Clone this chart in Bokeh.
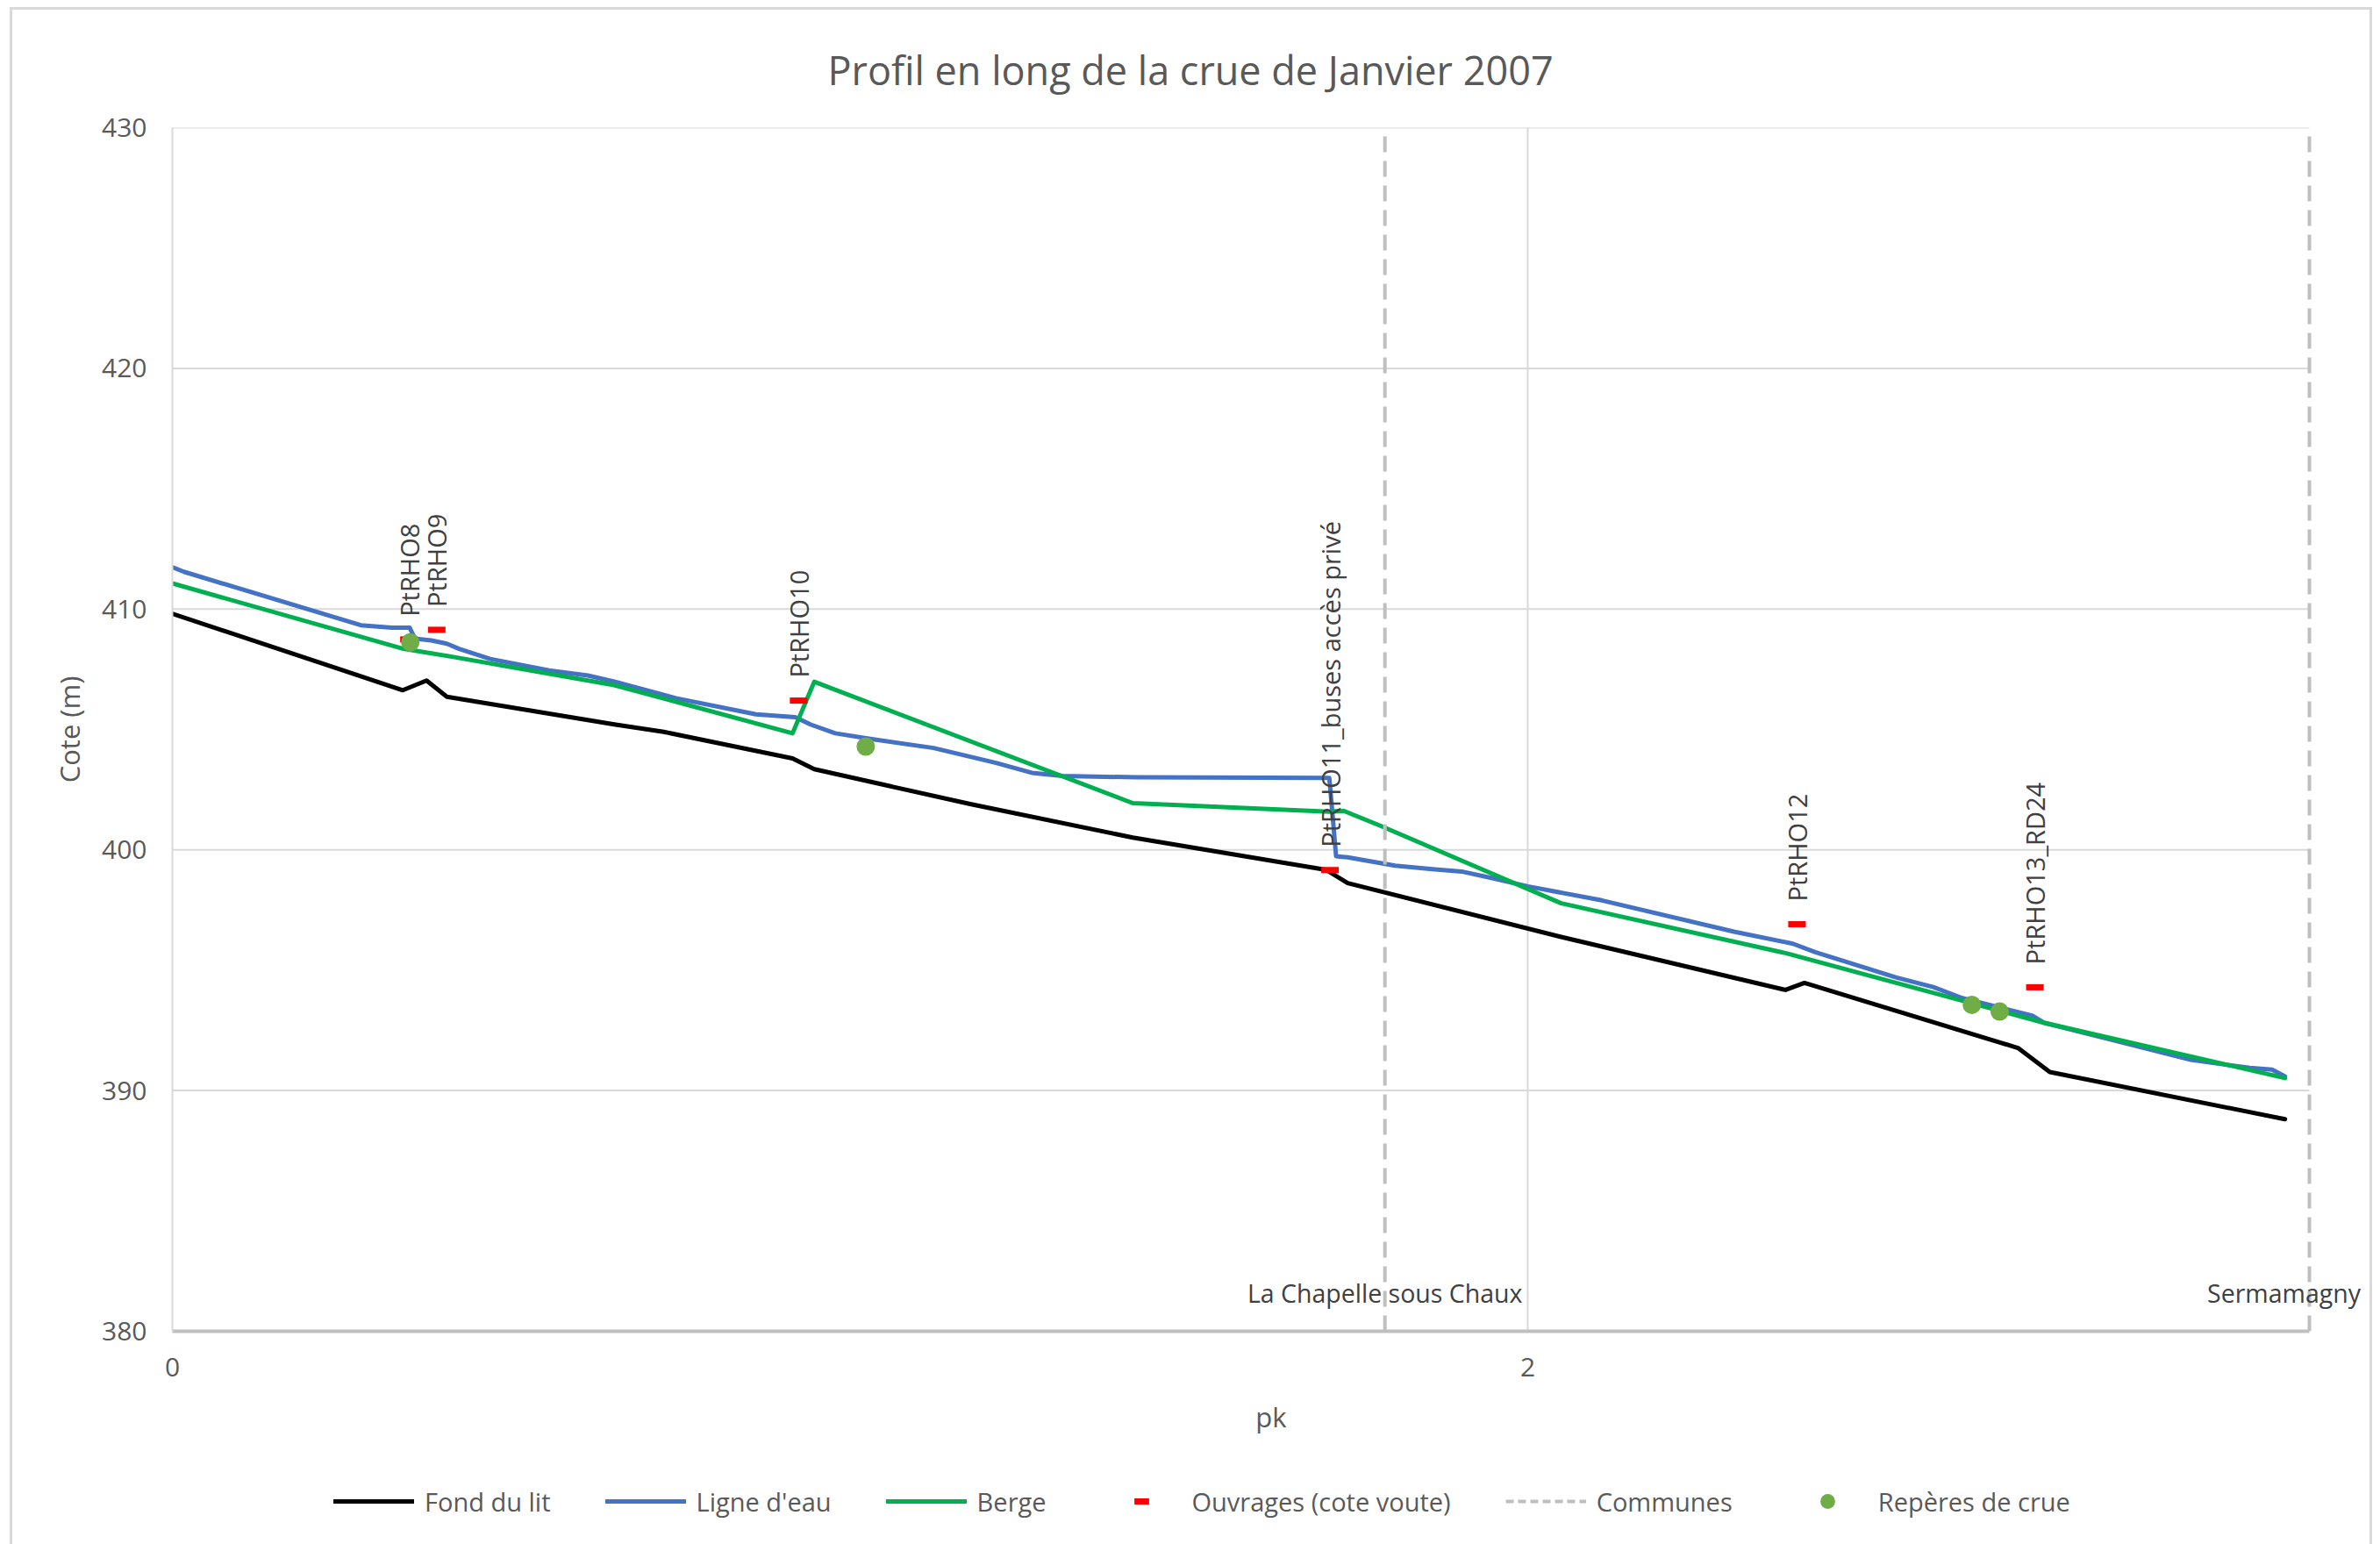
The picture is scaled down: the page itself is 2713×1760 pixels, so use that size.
import math
from bokeh.plotting import figure
from bokeh.layouts import column
from bokeh.models import Legend, LegendItem, FixedTicker, Range1d
from bokeh.core.properties import value
from bokeh.embed import file_html
from bokeh.resources import INLINE

# --- Profil en long : données (pk en km, cotes en m NGF) ---
pk_fond = [0.0, 0.340, 0.375, 0.405, 0.652, 0.725, 0.915, 0.947, 1.177, 1.417,
           1.702, 1.734, 2.049, 2.380, 2.408, 2.723, 2.770, 3.117]
cote_fond = [409.81, 406.63, 407.03, 406.36, 405.21, 404.90, 403.80, 403.35, 401.90, 400.51,
             399.17, 398.62, 396.38, 394.18, 394.47, 391.77, 390.77, 388.81]

pk_eau = [0.0, 0.017, 0.278, 0.324, 0.350, 0.358, 0.382, 0.405, 0.423, 0.469,
          0.556, 0.613, 0.652, 0.743, 0.861, 0.919, 0.942, 0.978, 1.032, 1.123,
          1.214, 1.268, 1.313, 1.422, 1.707, 1.717, 1.734, 1.804, 1.859, 1.902,
          1.946, 2.000, 2.109, 2.304, 2.391, 2.424, 2.543, 2.598, 2.641, 2.745,
          2.761, 2.859, 2.978, 3.065, 3.098, 3.117]
cote_eau = [411.74, 411.55, 409.33, 409.23, 409.23, 408.77, 408.70, 408.56, 408.35, 407.93,
            407.45, 407.24, 406.99, 406.30, 405.63, 405.51, 405.20, 404.84, 404.60, 404.23,
            403.62, 403.20, 403.07, 403.01, 402.99, 399.73, 399.69, 399.34, 399.20, 399.10,
            398.83, 398.48, 397.90, 396.60, 396.10, 395.75, 394.70, 394.30, 393.84, 393.10,
            392.82, 392.12, 391.28, 390.94, 390.87, 390.59]

pk_berge = [0.0, 0.341, 0.411, 0.652, 0.915, 0.947, 1.417, 1.707, 1.728, 1.783,
            2.049, 2.380, 2.761, 3.117]
cote_berge = [411.07, 408.35, 408.03, 406.84, 404.84, 406.98, 401.94, 401.58, 401.62, 400.99,
              397.78, 395.71, 392.82, 390.52]

ouvrages_noms = ["PtRHO8", "PtRHO9", "PtRHO10", "PtRHO11_buses accès privé",
                 "PtRHO12", "PtRHO13_RD24"]
ouvrages_pk = [0.349, 0.390, 0.924, 1.708, 2.397, 2.748]
ouvrages_cote = [408.74, 409.14, 406.20, 399.16, 396.91, 394.29]

reperes_pk = [0.351, 1.023, 2.655, 2.696]
reperes_cote = [408.62, 404.29, 393.56, 393.28]

communes_noms = ["La Chapelle sous Chaux", "Sermamagny"]
communes_pk = [1.789, 3.153]

y_ticks = [380, 390, 400, 410, 420, 430]
x_ticks = [0, 2]

FONT = "Open Sans"
GREY_TXT = "#595959"
DARK_TXT = "#404040"
GRID = "#d9d9d9"
C_FOND, C_EAU, C_BERGE = "black", "#4472c4", "#00b050"
C_OUV, C_COM, C_REP = "#ff0000", "#bfbfbf", "#70ad47"

y_min, y_max = y_ticks[0], y_ticks[-1]
x_max = communes_pk[-1]
# room right of the last commune limit so that its name is not cut
x_end = x_max + 0.0893

W = 2687
H_MAIN, H_LEG = 1660, 89

p = figure(
    width=W, height=H_MAIN,
    x_range=Range1d(0, x_end), y_range=Range1d(y_min, y_max),
    output_backend="svg", toolbar_location=None,
    title="Profil en long de la crue de Janvier 2007",
    min_border_left=182, min_border_right=0, min_border_top=134, min_border_bottom=154,
    background_fill_color="white", border_fill_color="white",
    outline_line_color=None,
)

p.title.align = "left"
p.title.offset = 747
p.title.standoff = 71
p.title.text_font = FONT
p.title.text_font_size = "45px"
p.title.text_font_style = "normal"
p.title.text_color = GREY_TXT

# axes
p.xaxis.ticker = FixedTicker(ticks=x_ticks)
p.yaxis.ticker = FixedTicker(ticks=y_ticks)
p.xaxis.bounds = (0, x_max)
p.xaxis.axis_label = "pk"
p.yaxis.axis_label = "Cote (m)"
for ax in (p.xaxis, p.yaxis):
    ax.major_tick_line_color = None
    ax.minor_tick_line_color = None
    ax.major_label_text_font = FONT
    ax.major_label_text_font_size = "30px"
    ax.major_label_text_color = GREY_TXT
    ax.axis_label_text_font = FONT
    ax.axis_label_text_font_size = "31px"
    ax.axis_label_text_font_style = "normal"
    ax.axis_label_text_color = GREY_TXT
p.xaxis.axis_label_text_align = "right"
p.yaxis.axis_line_color = GRID
p.yaxis.axis_line_width = 2
p.yaxis.major_label_standoff = 23
p.yaxis.axis_label_standoff = 13
p.xaxis.axis_line_color = "#bfbfbf"
p.xaxis.axis_line_width = 4
p.xaxis.major_label_standoff = 24
p.xaxis.axis_label_standoff = 22

# horizontal grid, stopping at the last commune limit
p.ygrid.visible = False
p.segment(x0=[0] * len(y_ticks), y0=y_ticks, x1=[x_max] * len(y_ticks), y1=y_ticks,
          line_color=GRID, line_width=2)
p.xgrid.ticker = FixedTicker(ticks=x_ticks)
p.xgrid.grid_line_color = GRID
p.xgrid.grid_line_width = 2

# séries
p.line(pk_fond, cote_fond, line_color=C_FOND, line_width=5, line_join="round", line_cap="round")
p.line(pk_eau, cote_eau, line_color=C_EAU, line_width=5, line_join="round", line_cap="round")
p.line(pk_berge, cote_berge, line_color=C_BERGE, line_width=5, line_join="round", line_cap="round")
p.scatter(ouvrages_pk, ouvrages_cote, marker="dash", size=20, line_color=C_OUV, line_width=7)
p.segment(x0=communes_pk, y0=[y_min] * len(communes_pk),
          x1=communes_pk, y1=[y_max] * len(communes_pk),
          line_color=C_COM, line_width=4, line_dash="18 10")
p.scatter(reperes_pk, reperes_cote, marker="circle", size=21, fill_color=C_REP, line_color=None)

# étiquettes des ouvrages (verticales, au-dessus du repère)
p.text(ouvrages_pk, ouvrages_cote, text=ouvrages_noms, angle=math.pi / 2,
       text_align="left", text_baseline="middle", y_offset=-26,
       text_font=value(FONT), text_font_size="29px", text_color=DARK_TXT)

# noms des communes au pied des limites
p.text(communes_pk[:1], [381.6], text=communes_noms[:1],
       text_align="center", text_baseline="middle",
       text_font=value(FONT), text_font_size="28.5px", text_color=DARK_TXT)
p.text(communes_pk[1:], [381.6], text=communes_noms[1:], x_offset=-29,
       text_align="center", text_baseline="middle",
       text_font=value(FONT), text_font_size="28.5px", text_color=DARK_TXT)

# bandeau de légende sous le graphique
leg = figure(width=W, height=H_LEG, x_range=Range1d(0, 1), y_range=Range1d(0, 1),
             output_backend="svg", toolbar_location=None, min_border=0,
             outline_line_color=None, background_fill_color="white",
             border_fill_color="white")
leg.axis.visible = False
leg.grid.visible = False
nan = [float("nan")]
g_fond = leg.line(nan, nan, line_color=C_FOND, line_width=5, line_cap="round")
g_eau = leg.line(nan, nan, line_color=C_EAU, line_width=5, line_cap="round")
g_berge = leg.line(nan, nan, line_color=C_BERGE, line_width=5, line_cap="round")
g_ouv = leg.scatter(nan, nan, marker="dash", line_color=C_OUV, line_width=7)
g_com = leg.line(nan, nan, line_color=C_COM, line_width=4, line_dash="9 5")
g_rep = leg.scatter(nan, nan, marker="circle", fill_color=C_REP, line_color=None)

legend = Legend(
    items=[
        LegendItem(label="Fond du lit", renderers=[g_fond]),
        LegendItem(label="Ligne d'eau", renderers=[g_eau]),
        LegendItem(label="Berge", renderers=[g_berge]),
        LegendItem(label="Ouvrages (cote voute)", renderers=[g_ouv]),
        LegendItem(label="Communes", renderers=[g_com]),
        LegendItem(label="Repères de crue", renderers=[g_rep]),
    ],
    orientation="horizontal", location=(184, 28),
    glyph_width=92, glyph_height=42, spacing=62, label_standoff=12,
    padding=0, margin=0, border_line_color=None, background_fill_alpha=0,
    label_text_font=FONT, label_text_font_size="29px", label_text_color=GREY_TXT,
)
leg.add_layout(legend)

page = column(p, leg, spacing=0,
              styles={"margin-left": "11px", "margin-top": "8px",
                      "border-top": "3px solid #d9d9d9", "border-left": "3px solid #d9d9d9",
                      "border-right": "3px solid #d9d9d9"})

open("out.html", "w").write(file_html(page, INLINE))
